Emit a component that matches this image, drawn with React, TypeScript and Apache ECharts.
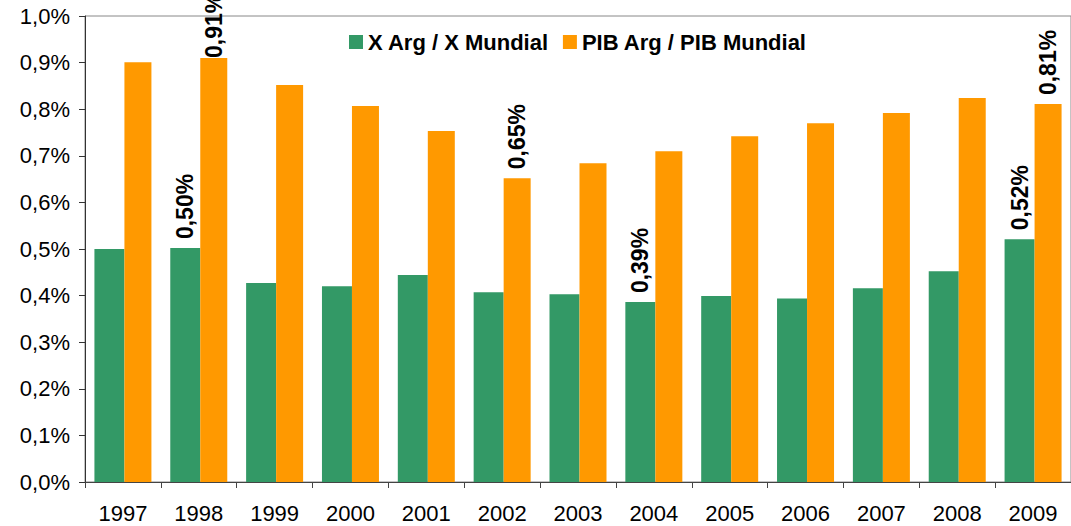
import React, { useEffect, useRef } from "react";
import * as echarts from "echarts";

const years = ["1997", "1998", "1999", "2000", "2001", "2002", "2003", "2004", "2005", "2006", "2007", "2008", "2009"];
const exportShare = [0.50, 0.502, 0.427, 0.42, 0.444, 0.407, 0.403, 0.386, 0.399, 0.394, 0.416, 0.452, 0.521];
const gdpShare = [0.901, 0.91, 0.852, 0.807, 0.753, 0.652, 0.684, 0.71, 0.742, 0.77, 0.792, 0.824, 0.811];
const exportLabeled = ["1998", "2004", "2009"];
const gdpLabeled = ["1998", "2002", "2009"];
const seriesNames = ["X Arg / X Mundial", "PIB Arg / PIB Mundial"];

const FONT = "'Liberation Sans', Arial, sans-serif";

const fmt = (v: number, digits: number) => v.toFixed(digits).replace(".", ",") + "%";

function buildData(values: number[], labeled: string[], tightYear?: string) {
  return values.map((v, i) => {
    const y = years[i];
    if (!labeled.includes(y)) return { value: v };
    return {
      value: v,
      label: {
        show: true,
        position: "top",
        rotate: 90,
        align: "left",
        verticalAlign: "middle",
        distance: y === tightYear ? 0 : 9,
        formatter: fmt(v, 2),
        fontFamily: FONT,
        fontWeight: "bold",
        fontSize: 23,
        color: "#000",
      },
    };
  });
}

export default function App() {
  const ref = useRef<HTMLDivElement>(null);
  useEffect(() => {
    if (!ref.current) return;
    const chart = echarts.init(ref.current, undefined, { renderer: "svg" });
    chart.setOption({
      animation: false,
      backgroundColor: "#fff",
      textStyle: { fontFamily: FONT },
      grid: {
        left: 85,
        right: -1,
        top: 16,
        bottom: 44,
        show: true,
        borderColor: "#888",
        borderWidth: 1,
        containLabel: false,
      },
      legend: {
        left: 344,
        top: 26,
        icon: "rect",
        itemWidth: 14,
        itemHeight: 14,
        itemGap: 14,
        textStyle: { fontFamily: FONT, fontWeight: "bold", fontSize: 22, color: "#000" },
        data: seriesNames,
      },
      xAxis: {
        type: "category",
        data: years,
        axisLine: { lineStyle: { color: "#444", width: 1 } },
        axisTick: { show: true, length: 6, lineStyle: { color: "#444" } },
        axisLabel: { margin: 20, fontFamily: FONT, fontSize: 22, color: "#000" },
        splitLine: { show: false },
      },
      yAxis: {
        type: "value",
        min: 0,
        max: 1,
        interval: 0.1,
        axisLine: { show: true, lineStyle: { color: "#333", width: 1 } },
        axisTick: { show: true, length: 6, lineStyle: { color: "#333" } },
        axisLabel: {
          margin: 15,
          fontFamily: FONT,
          fontSize: 22,
          color: "#000",
          formatter: (v: number) => fmt(v, 1),
        },
        splitLine: { show: false },
      },
      series: [
        {
          name: seriesNames[0],
          type: "bar",
          barWidth: 30,
          barGap: "0%",
          itemStyle: { color: "#339966" },
          data: buildData(exportShare, exportLabeled),
        },
        {
          name: seriesNames[1],
          type: "bar",
          barWidth: 27,
          barGap: "0%",
          itemStyle: { color: "#FF9900" },
          data: buildData(gdpShare, gdpLabeled, "1998"),
        },
      ],
    });
    return () => chart.dispose();
  }, []);
  return (
    <div
      ref={ref}
      style={{ position: "fixed", left: 0, top: 0, width: 1071, height: 526, background: "#fff" }}
    />
  );
}
